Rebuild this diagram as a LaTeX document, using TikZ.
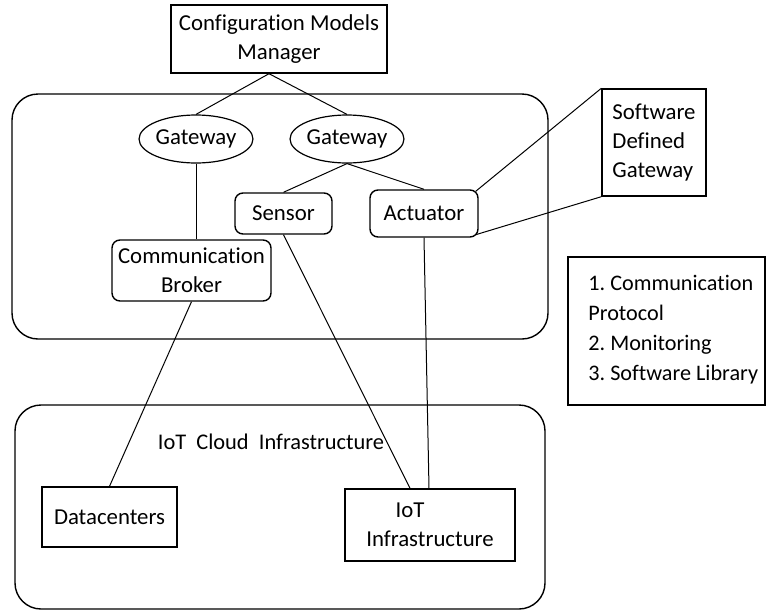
\documentclass[tikz,border=0pt]{standalone}
\usepackage{fontspec}
\setmainfont{Carlito}[Ligatures=NoCommon]
\usetikzlibrary{shapes.geometric,calc}
\frenchspacing
\begin{document}
\begin{tikzpicture}[x=0.5pt,y=-0.5pt,
  every node/.style={font=\fontsize{11.4}{14.5}\selectfont, text=black},
  box/.style={draw, line width=0.7pt, rectangle, align=center, inner sep=0pt},
  rbox/.style={draw, line width=0.7pt, rectangle, rounded corners=4pt, align=center, inner sep=0pt},
  gw/.style={draw, line width=0.6pt, ellipse, inner sep=0pt, minimum width=52pt, minimum height=24pt},
  container/.style={draw, line width=0.7pt, rectangle, rounded corners=13pt, inner sep=0pt},
  link/.style={draw, line width=0.5pt}]
\useasboundingbox (0,0) rectangle (766,611);

% containers
\node[container, minimum width=268pt, minimum height=122.5pt] (edgearea) at (280,216.5) {};
\node[container, minimum width=265pt, minimum height=102pt] (cloudarea) at (280,507) {};

% nodes
\node[box, minimum width=108pt, minimum height=34pt] (config) at (279,39) {Configuration Models\\Manager};
\node[gw] (gw1) at (196,139) {Gateway};
\node[gw, minimum width=52.5pt] (gw2) at (347,139) {Gateway};
\node[rbox, minimum width=48.5pt, minimum height=20.5pt] (sensor) at (283.5,213.5) {Sensor};
\node[rbox, minimum width=54pt, minimum height=23.5pt] (actuator) at (424,213.5) {Actuator};
\node[rbox, minimum width=79.5pt, minimum height=30.5pt] (broker) at (191.5,270.5) {Communication\\Broker};
\node[box, minimum width=52pt, minimum height=53.5pt, align=left] (sdg) at (654,142.5) {Software\\Defined\\Gateway};
\node[box, minimum width=98.5pt, minimum height=74pt] (legend) at (666.5,331) {};
\node[anchor=west, align=left, inner sep=0pt, font=\fontsize{11.1}{15}\selectfont] (legendtext) at (588,330) {1. Communication\\Protocol\\2. Monitoring\\3. Software Library};
\node[inner sep=0pt, font=\fontsize{11.2}{14.5}\selectfont] (cloudlabel) at (271,442) {IoT\ \ Cloud\ \ Infrastructure};
\node[box, minimum width=67.5pt, minimum height=30pt] (dc) at (109.5,517) {Datacenters};
\node[box, minimum width=85pt, minimum height=36pt] (iot) at (430,525) {IoT\hspace*{20pt}\\Infrastructure};

% connectors
\draw[link] ([xshift=-5pt]config.south) -- (gw1.north);
\draw[link] ([xshift=-5pt]config.south) -- (gw2.north);
\draw[link] (gw1.south) -- (gw1.south |- broker.north);
\draw[link] (gw2.south) -- (sensor.north);
\draw[link] (gw2.south) -- (actuator.north);
\draw[link] ([xshift=-1.5pt,yshift=-1pt]actuator.north east) -- (sdg.north west);
\draw[link] ([xshift=-1.5pt,yshift=1.5pt]actuator.south east) -- (sdg.south west);
\draw[link] (broker.south) -- (dc.north);
\draw[link] (sensor.south) -- ([xshift=-10pt]iot.north);
\draw[link] (actuator.south) -- ([xshift=-0.5pt]iot.north);
\end{tikzpicture}
\end{document}
